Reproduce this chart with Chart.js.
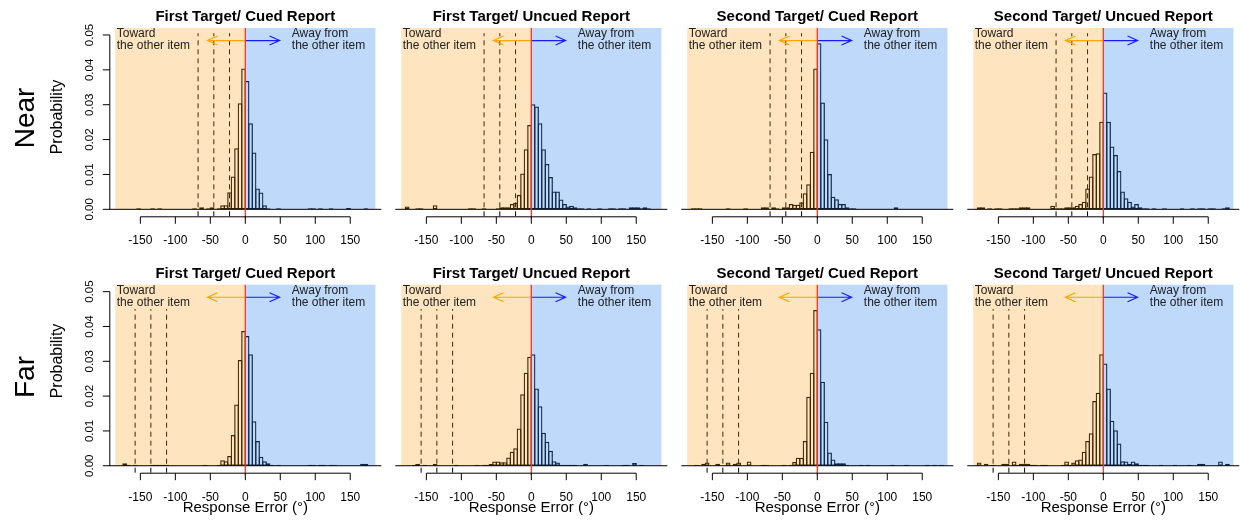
<!DOCTYPE html>
<html>
<head>
<meta charset="utf-8">
<script src="https://cdn.jsdelivr.net/npm/chart.js@4.4.1/dist/chart.umd.min.js"></script>
<style>
  html, body { margin: 0; padding: 0; background: #fff; overflow: hidden; width: 1243px; height: 521px; }
  canvas { position: absolute; }
</style>
</head>
<body>
<script>
// 5 degree bins, centres
const binCenters = [
  -177.5, -172.5, -167.5, -162.5, -157.5, -152.5, -147.5, -142.5, -137.5, -132.5, -127.5, -122.5,
  -117.5, -112.5, -107.5, -102.5, -97.5, -92.5, -87.5, -82.5, -77.5, -72.5, -67.5, -62.5,
  -57.5, -52.5, -47.5, -42.5, -37.5, -32.5, -27.5, -22.5, -17.5, -12.5, -7.5, -2.5,
  2.5, 7.5, 12.5, 17.5, 22.5, 27.5, 32.5, 37.5, 42.5, 47.5, 52.5, 57.5,
  62.5, 67.5, 72.5, 77.5, 82.5, 87.5, 92.5, 97.5, 102.5, 107.5, 112.5, 117.5,
  122.5, 127.5, 132.5, 137.5, 142.5, 147.5, 152.5, 157.5, 162.5, 167.5, 172.5, 177.5
];

const nearFirstCued = [
  0, 0, 0, 0, 0, .0003, 0, 0, 0, .0003, 0, .0003,
  0, 0, 0, 0, 0, 0, 0, 0, 0, .0003, 0, .0006,
  0, .0003, .0006, 0, .0003, .0012, .0012, .0049, .0094, .0175, .0304, .0404,
  .0368, .0247, .0163, .0060, .0048, .0012, .0003, 0, 0, .0003, 0, 0,
  0, 0, 0, 0, 0, 0, .0003, .0003, 0, .0003, 0, 0,
  .0003, 0, 0, 0, 0, .0004, 0, 0, 0, 0, .0003, 0
];
const nearFirstUncued = [
  .0008, 0, 0, .0003, .0003, 0, 0, 0, .0012, 0, 0, 0,
  0, 0, 0, 0, 0, 0, .0003, .0003, 0, 0, .0003, 0,
  0, 0, .0003, .0006, .0006, .0006, .0015, .0019, .0041, .0103, .0172, .0242,
  .0301, .0295, .0247, .0172, .0130, .0093, .0051, .0051, .0028, .0015, .0008, .0010,
  .0006, .0003, .0003, 0, .0003, 0, 0, .0003, 0, 0, .0003, .0003,
  0, .0003, .0003, 0, .0006, .0006, .0006, .0003, .0006, .0003, 0, 0
];
const nearSecondCued = [
  .0003, .0003, .0003, 0, 0, 0, 0, 0, 0, 0, .0003, 0,
  0, 0, 0, .0003, 0, 0, 0, 0, .0006, .0006, 0, .0006,
  .0003, 0, .0006, .0006, .0015, .0013, .0013, .0020, .0046, .0072, .0165, .0404,
  .0476, .0306, .0201, .0101, .0036, .0029, .0015, .0015, .0006, .0003, .0003, 0,
  0, 0, 0, 0, 0, 0, 0, 0, 0, 0, .0006, 0,
  0, 0, 0, 0, 0, 0, 0, 0, 0, 0, 0, 0
];
const nearSecondUncued = [
  .0006, .0006, 0, .0003, 0, .0003, .0003, 0, 0, .0003, .0003, .0003,
  .0006, .0006, .0006, 0, 0, 0, 0, 0, 0, .0010, .0003, .0003,
  .0003, .0006, .0006, .0006, .0010, .0015, .0022, .0060, .0094, .0159, .0161, .0251,
  .0335, .0251, .0180, .0156, .0110, .0051, .0032, .0022, .0008, .0015, .0006, .0003,
  .0003, 0, .0003, 0, 0, .0003, 0, 0, 0, 0, .0003, 0,
  0, .0003, 0, .0003, .0003, 0, .0003, .0003, 0, 0, .0003, .0006
];
const farFirstCued = [
  0, .0007, .0003, 0, .0003, 0, 0, 0, 0, .0003, .0003, .0003,
  .0003, .0003, 0, 0, 0, 0, 0, 0, 0, 0, 0, 0,
  .0003, 0, 0, 0, .0003, .0016, .0013, .0028, .0088, .0176, .0304, .0387,
  .0373, .0320, .0128, .0071, .0026, .0013, .0007, .0003, 0, .0003, 0, 0,
  0, 0, 0, 0, 0, 0, .0003, .0003, 0, .0003, .0003, 0,
  .0003, .0003, 0, 0, 0, 0, 0, 0, 0, .0006, .0006, 0
];
const farFirstUncued = [
  0, 0, .0003, .0006, 0, .0003, 0, 0, .0006, 0, 0, 0,
  0, 0, .0003, 0, 0, 0, 0, 0, .0003, 0, .0003, .0003,
  .0005, .0012, .0012, .0010, .0010, .0024, .0040, .0050, .0107, .0205, .0267, .0313,
  .0320, .0222, .0171, .0095, .0069, .0043, .0013, .0009, .0003, .0003, .0003, .0003,
  .0003, 0, 0, .0006, 0, 0, 0, 0, 0, .0003, 0, 0,
  0, 0, .0003, .0003, 0, .0008, 0, .0003, 0, 0, 0, 0
];
const farSecondCued = [
  0, .0003, 0, .0006, .0009, 0, 0, .0006, 0, 0, .0009, 0,
  .0006, .0009, 0, 0, .0012, 0, 0, 0, .0003, .0003, 0, 0,
  0, 0, .0003, 0, .0003, .0011, .0023, .0023, .0071, .0198, .0267, .0447,
  .0392, .0241, .0126, .0038, .0018, .0007, .0007, .0007, .0003, 0, 0, 0,
  .0003, 0, .0003, 0, 0, 0, 0, 0, 0, .0003, 0, 0,
  0, .0003, 0, 0, 0, 0, 0, .0003, 0, .0003, 0, .0003
];
const farSecondUncued = [
  .0009, 0, .0006, 0, .0003, 0, 0, .0006, .0006, 0, .0012, .0003,
  .0006, .0006, .0006, .0003, .0003, 0, .0003, .0003, 0, 0, 0, 0,
  .0003, .0012, .0003, .0009, .0016, .0018, .0040, .0071, .0093, .0186, .0210, .0320,
  .0294, .0222, .0129, .0102, .0064, .0013, .0012, .0005, .0012, .0007, .0003, .0003,
  .0003, 0, 0, 0, .0003, 0, 0, 0, .0003, 0, 0, 0,
  .0003, 0, 0, .0006, .0006, 0, 0, 0, 0, .0012, 0, .0006
];

const panelTitles = ['First Target/ Cued Report', 'First Target/ Uncued Report',
                     'Second Target/ Cued Report', 'Second Target/ Uncued Report'];
const rowLabels = ['Near', 'Far'];
const rowSeries = [
  [nearFirstCued, nearFirstUncued, nearSecondCued, nearSecondUncued],
  [farFirstCued, farFirstUncued, farSecondCued, farSecondUncued]
];
// dashed reference lines (degrees)
const nearGuides = [-67.5, -45, -22.5];
const farGuides = [-157.5, -135, -112.5];
const xTicks = [-150, -100, -50, 0, 50, 100, 150];
const yTicks = [0, 0.01, 0.02, 0.03, 0.04, 0.05];
const yTickLabels = ['0.00', '0.01', '0.02', '0.03', '0.04', '0.05'];

const FONT = '"Liberation Sans", Arial, Helvetica, sans-serif';

// page layout
const colLeft = [0, 388, 674, 960];
const colWidth = [388, 286, 286, 286];
const padLeft = [109.3, 7.3, 7.3, 7.3];
const rowTop = [0, 256];
const rowHeight = [256, 265];
const padTop = [28.0, 28.7];
const padBottom = [39.7, 48.3];
const guideTop = [0.0505, 0.045];
const probY = [117, 105];
const labelY = [118, 121];
const BAR_LINE = 1.25;

function arrow(ctx, x0, x1, y, color) {
  const dir = x1 > x0 ? 1 : -1;
  ctx.strokeStyle = color;
  ctx.lineWidth = 1.2;
  ctx.beginPath();
  ctx.moveTo(x0, y); ctx.lineTo(x1, y);
  ctx.moveTo(x1 - dir * 10, y - 4.5); ctx.lineTo(x1, y); ctx.lineTo(x1 - dir * 10, y + 4.5);
  ctx.stroke();
}

function decor(row, col) {
  return {
    id: 'decor' + row + col,
    afterDatasetsDraw(chart) {
      const ctx = chart.ctx;
      const a = chart.chartArea;
      const X = v => chart.scales.x.getPixelForValue(v);
      const Y = v => chart.scales.y.getPixelForValue(v);
      const y0 = Y(0);
      ctx.save();

      // dashed guides
      ctx.strokeStyle = '#000';
      ctx.lineWidth = 1;
      ctx.setLineDash([5, 4]);
      (row === 0 ? nearGuides : farGuides).forEach(g => {
        ctx.beginPath();
        ctx.moveTo(X(g), a.bottom);
        ctx.lineTo(X(g), Y(guideTop[row]));
        ctx.stroke();
      });
      ctx.setLineDash([]);

      // translucent shading over the bars and guides
      ctx.fillStyle = 'rgba(250,150,5,0.25)';
      ctx.fillRect(X(-186), a.top, X(0) - X(-186), y0 - a.top);
      ctx.fillStyle = 'rgba(40,130,240,0.3)';
      ctx.fillRect(X(0), a.top, X(186) - X(0), y0 - a.top);

      // direction notes
      ctx.fillStyle = '#222';
      ctx.font = '12px ' + FONT;
      ctx.textAlign = 'left';
      ctx.textBaseline = 'middle';
      ctx.fillText('Toward', X(-183.8), a.top + 6);
      ctx.fillText('the other item', X(-183.8), a.top + 17.7);
      ctx.fillText('Away from', X(66.5), a.top + 6);
      ctx.fillText('the other item', X(66.5), a.top + 17.7);

      // baseline
      ctx.strokeStyle = '#000';
      ctx.lineWidth = 1;
      ctx.beginPath();
      ctx.moveTo(a.left, y0); ctx.lineTo(a.right, y0);
      ctx.stroke();

      // arrows
      arrow(ctx, X(0), X(-54), Y(0.0484), '#ffa500');
      arrow(ctx, X(0), X(49), Y(0.0484), '#1a1aff');

      // zero line
      ctx.strokeStyle = '#ee3a2c';
      ctx.lineWidth = 1.3;
      ctx.beginPath();
      ctx.moveTo(X(0), a.top); ctx.lineTo(X(0), a.bottom + 2);
      ctx.stroke();

      // x axis
      const ax = a.bottom + 0.5;
      ctx.strokeStyle = '#000';
      ctx.lineWidth = 1;
      ctx.beginPath();
      ctx.moveTo(X(xTicks[0]), ax); ctx.lineTo(X(xTicks[xTicks.length - 1]), ax);
      xTicks.forEach(t => { ctx.moveTo(X(t), ax); ctx.lineTo(X(t), ax + 7); });
      ctx.stroke();
      ctx.fillStyle = '#000';
      ctx.font = '12px ' + FONT;
      ctx.textAlign = 'center';
      ctx.textBaseline = 'middle';
      xTicks.forEach(t => ctx.fillText(String(t), X(t), ax + 24));
      if (row === 1) {
        ctx.font = '15px ' + FONT;
        ctx.fillText('Response Error (\u00B0)', X(0), ax + 34.5);
      }

      // title
      ctx.font = 'bold 15px ' + FONT;
      ctx.fillText(panelTitles[col], (a.left + a.right) / 2, a.top - 11);

      // y axis only on the first column
      if (col === 0) {
        const yx = a.left + 0.5;
        ctx.beginPath();
        ctx.moveTo(yx, Y(0)); ctx.lineTo(yx, Y(0.05));
        yTicks.forEach(t => { ctx.moveTo(yx, Y(t)); ctx.lineTo(yx - 7, Y(t)); });
        ctx.stroke();
        ctx.font = '11.5px ' + FONT;
        yTicks.forEach((t, i) => {
          ctx.save();
          ctx.translate(90, Y(t));
          ctx.rotate(-Math.PI / 2);
          ctx.fillText(yTickLabels[i], 0, 0);
          ctx.restore();
        });
        ctx.save();
        ctx.translate(58, probY[row]);
        ctx.rotate(-Math.PI / 2);
        ctx.font = '16px ' + FONT;
        ctx.fillText('Probability', 0, 0);
        ctx.restore();
        ctx.save();
        ctx.translate(26, labelY[row]);
        ctx.rotate(-Math.PI / 2);
        ctx.font = '28px ' + FONT;
        ctx.fillText(rowLabels[row], 0, 0);
        ctx.restore();
      }
      ctx.restore();
    }
  };
}

function makePanel(row, col) {
  const canvas = document.createElement('canvas');
  canvas.width = colWidth[col];
  canvas.height = rowHeight[row];
  canvas.style.left = colLeft[col] + 'px';
  canvas.style.top = rowTop[row] + 'px';
  document.body.appendChild(canvas);

  const values = rowSeries[row][col];
  new Chart(canvas.getContext('2d'), {
    type: 'bar',
    data: {
      datasets: [{
        data: binCenters.map((x, i) => ({ x: x, y: values[i] })),
        backgroundColor: 'rgba(0,0,0,0)',
        borderColor: '#000',
        borderWidth: BAR_LINE,
        borderSkipped: false,
        inflateAmount: 0,
        // widen each bar by one line width so neighbouring edges overlap into one
        barPercentage: (3.498 + BAR_LINE) / 3.498,
        categoryPercentage: 1
      }]
    },
    options: {
      responsive: false,
      animation: false,
      events: [],
      layout: {
        padding: {
          left: padLeft[col],
          right: colWidth[col] - padLeft[col] - 272,
          top: padTop[row],
          bottom: padBottom[row]
        }
      },
      scales: {
        x: { type: 'linear', min: -194.4, max: 194.4, offset: false, display: false },
        y: { min: -0.002, max: 0.052, display: false }
      },
      plugins: {
        legend: { display: false },
        tooltip: { enabled: false }
      }
    },
    plugins: [decor(row, col)]
  });
}

for (let r = 0; r < 2; r++) {
  for (let c = 0; c < 4; c++) makePanel(r, c);
}
</script>
</body>
</html>
